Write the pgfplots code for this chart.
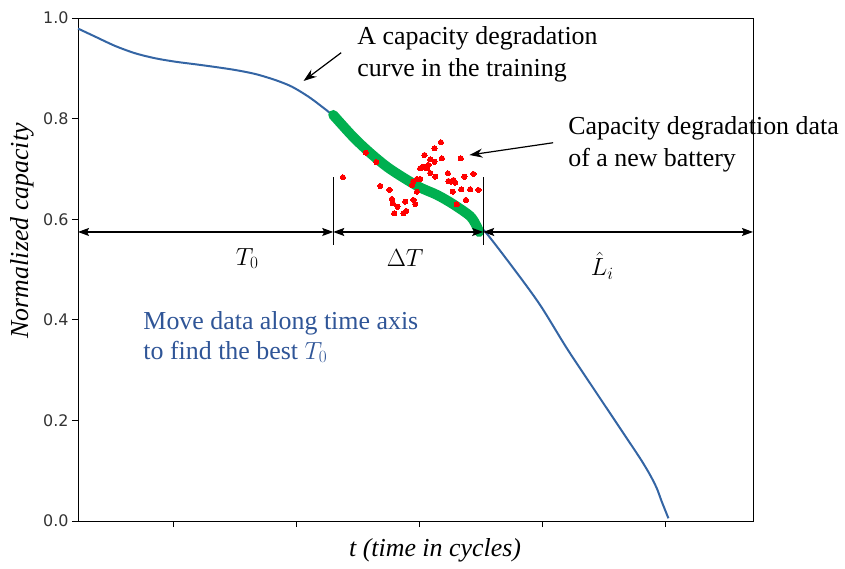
\documentclass[border=0pt]{standalone}
\usepackage{fontspec}
\setmainfont{Liberation Serif}
\newfontfamily\ticksfont{DejaVu Sans}
\usepackage{pgfplots}
\pgfplotsset{compat=1.18}
\usetikzlibrary{arrows.meta}

\definecolor{curveblue}{RGB}{52,101,164}
\definecolor{noteblue}{RGB}{47,85,151}
\definecolor{fitgreen}{RGB}{0,176,80}

\begin{document}
\begin{tikzpicture}
\begin{axis}[
  at={(0,0)}, anchor=south west,
  scale only axis, width=675bp, height=503bp,
  xmin=45, xmax=1143, ymin=0, ymax=1,
  xtick={200,400,600,800,1000}, xticklabels={},
  ytick={0,0.2,0.4,0.6,0.8,1.0},
  yticklabel style={/pgf/number format/fixed,
    /pgf/number format/fixed zerofill,
    /pgf/number format/precision=1},
  /pgf/number format/assume math mode=true,
  tick label style={font=\ticksfont\fontsize{16}{16}\selectfont, text=black!80},
  tick align=outside, major tick length=6bp,
  tick style={black, line width=0.8bp},
  xtick pos=bottom, ytick pos=left,
  axis line style={line width=0.9bp},
  clip=false,
  xlabel={\itshape t (time in cycles)},
  xlabel style={font=\fontsize{26}{30}\selectfont, at={(axis description cs:0.529,-0.058)}, anchor=center},
  ylabel={\itshape Normalized capacity},
  ylabel style={font=\fontsize{26}{30}\selectfont, at={(axis description cs:-0.083,0.577)}, anchor=center, rotate=0},
]

% degradation curve from the training set
\addplot[curveblue, line width=2bp, smooth, tension=0.5] coordinates {
  (45,0.979) (73.2,0.9628) (105.7,0.9443) (138.2,0.9298) (170.7,0.9199)
  (203.3,0.9131) (235.8,0.9080) (268.3,0.9026) (300.8,0.8966)
  (333.3,0.8887) (365.9,0.8767) (393.0,0.8634) (420.0,0.8435)
  (441.8,0.8237) (458.1,0.8072) (492.7,0.7634) (520.3,0.7316)
  (548.0,0.7038) (574.0,0.6829) (601.6,0.6630) (629.3,0.6481)
  (655.3,0.6298) (682.9,0.6060) (695.9,0.5821) (707.3,0.5751)
  (753.3,0.5024) (796.7,0.4294) (840.2,0.3433) (883.4,0.2638)
  (926.8,0.1843) (959.3,0.1247) (975.6,0.0915) (986.5,0.0650)
  (994.6,0.0384) (1005.4,0.0054)
};

% matched segment
\addplot[fitgreen, line width=10bp, line cap=round, line join=round, smooth] coordinates {
  (460.2,0.8072) (492.7,0.7634) (520.3,0.7316) (548.0,0.7038)
  (574.0,0.6829) (601.6,0.6630) (629.3,0.6481) (655.3,0.6298)
  (682.9,0.6060) (693.5,0.5861) (697.6,0.5746)
};

% measurements of the new battery
\addplot[red, only marks, mark=*, mark size=2.6bp, mark options={draw=red, fill=red, line width=0pt}] coordinates {
  (475.9,0.6833) (513.3,0.7322) (530.1,0.7137) (536.6,0.6660)
  (551.7,0.6581) (555.6,0.6402) (557.2,0.6316) (564.7,0.6249)
  (559.3,0.6117) (574.5,0.6117) (578.9,0.6163) (577.2,0.6348)
  (590.7,0.6382) (593.5,0.6302) (588.1,0.6680) (590.7,0.6746)
  (596.3,0.6799) (601.6,0.6799) (596.3,0.6547) (601.6,0.7012)
  (607.0,0.7044) (612.5,0.7012) (615.1,0.7078) (608.6,0.7276)
  (617.9,0.7191) (624.9,0.7143) (624.9,0.7410) (635.3,0.7529)
  (636.9,0.7211) (626.0,0.6845) (646.7,0.6913) (647.6,0.6759)
  (652.0,0.6746) (655.8,0.6779) (658.5,0.6726) (654.7,0.6547)
  (668.3,0.6594) (673.6,0.6845) (688.3,0.6899) (682.9,0.6594)
  (696.4,0.6581) (675.9,0.6382) (661.2,0.6296) (667.7,0.7211)
  (617.9,0.6918)
};

% interval markers
\draw[line width=1.2bp] (axis cs:460.2,0.549) -- (axis cs:460.2,0.684);
\draw[line width=1.2bp] (axis cs:704.1,0.549) -- (axis cs:704.1,0.684);
\draw[line width=1.2bp, {Stealth[length=11bp,width=8bp,inset=2bp]}-{Stealth[length=11bp,width=8bp,inset=2bp]}]
  (axis cs:45,0.5746) -- (axis cs:460.2,0.5746);
\draw[line width=1.2bp, {Stealth[length=11bp,width=8bp,inset=2bp]}-{Stealth[length=11bp,width=8bp,inset=2bp]}]
  (axis cs:460.2,0.5746) -- (axis cs:704.1,0.5746);
\draw[line width=1.2bp, {Stealth[length=11bp,width=8bp,inset=2bp]}-{Stealth[length=11bp,width=8bp,inset=2bp]}]
  (axis cs:704.1,0.5746) -- (axis cs:1143,0.5746);

\node[font=\fontsize{26}{30}\selectfont] at (axis cs:320.3,0.522) {$T_0$};
\node[font=\fontsize{26}{30}\selectfont] at (axis cs:577.2,0.522) {$\Delta T$};
\node[font=\fontsize{26}{30}\selectfont, inner sep=1pt] at (axis cs:897.6,0.508) {$\hat{L}_i$};

% callouts
\node[anchor=west, align=left, font=\fontsize{26}{32}\selectfont, inner sep=0pt]
  at (axis cs:499.2,0.928) {A capacity degradation\\curve in the training};
\draw[line width=1.2bp, -{Stealth[length=13bp,width=9bp]}]
  (axis cs:473.1,0.931) -- (axis cs:411.9,0.8748);

\node[anchor=west, align=left, font=\fontsize{26}{32}\selectfont, inner sep=0pt]
  at (axis cs:842.3,0.7495) {Capacity degradation data\\of a new battery};
\draw[line width=1.2bp, -{Stealth[length=13bp,width=9bp]}]
  (axis cs:817.9,0.752) -- (axis cs:681.8,0.7276);

\node[anchor=west, align=left, font=\fontsize{26}{30}\selectfont, text=noteblue, inner sep=0pt]
  at (axis cs:151.2,0.3658) {Move data along time axis\\to find the best $T_0$};
\end{axis}
\pgfresetboundingbox
\path (-78bp,-48bp) rectangle (767bp,521bp);
\end{tikzpicture}
\end{document}
